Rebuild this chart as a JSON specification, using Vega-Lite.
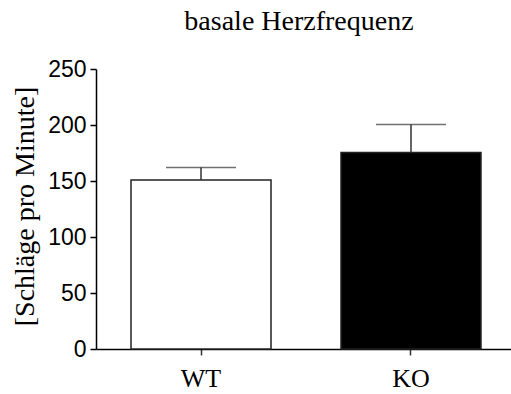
{
  "$schema": "https://vega.github.io/schema/vega-lite/v6.json",
  "autosize": "none",
  "padding": {"left": 96, "top": 69, "right": 0, "bottom": 45},
  "width": 420,
  "height": 280,
  "title": {
    "text": "basale Herzfrequenz",
    "font": "Liberation Serif",
    "fontSize": 28,
    "fontWeight": "normal",
    "color": "black",
    "anchor": "middle",
    "baseline": "alphabetic",
    "frame": "group",
    "dx": -7,
    "offset": 0
  },
  "data": {
    "values": [
      {"group": "WT", "mean": 151, "upper": 162},
      {"group": "KO", "mean": 175.5, "upper": 200.5}
    ]
  },
  "encoding": {
    "x": {
      "field": "group",
      "type": "nominal",
      "sort": ["WT", "KO"],
      "scale": {"paddingInner": 0.3333, "paddingOuter": 0.1667},
      "axis": {
        "title": null,
        "labelAngle": 0,
        "labelFont": "Liberation Serif",
        "labelFontSize": 26,
        "labelColor": "black",
        "labelBaseline": "alphabetic",
        "labelPadding": 31,
        "tickSize": 6,
        "tickColor": "#333",
        "tickWidth": 1.5,
        "domainColor": "black",
        "domainWidth": 1.5
      }
    }
  },
  "layer": [
    {
      "mark": {"type": "bar", "stroke": "#222", "strokeWidth": 1.5},
      "encoding": {
        "y": {
          "field": "mean",
          "type": "quantitative",
          "scale": {"domain": [0, 250], "nice": false, "zero": true},
          "axis": {
            "values": [0, 50, 100, 150, 200, 250],
            "grid": false,
            "title": "[Schläge pro Minute]",
            "titleFont": "Liberation Serif",
            "titleFontSize": 28,
            "titleFontWeight": "normal",
            "titleColor": "black",
            "titleAngle": -90,
            "titleAlign": "center",
            "titleBaseline": "alphabetic",
            "titleX": -63,
            "titleY": 137,
            "labelFont": "Liberation Sans",
            "labelFontSize": 23,
            "labelColor": "black",
            "labelPadding": 4,
            "tickSize": 6,
            "tickColor": "black",
            "tickWidth": 1.5,
            "domainColor": "black",
            "domainWidth": 1.5
          }
        },
        "fill": {
          "field": "group",
          "type": "nominal",
          "scale": {"domain": ["WT", "KO"], "range": ["white", "black"]},
          "legend": null
        }
      }
    },
    {
      "mark": {"type": "rule", "color": "#333", "strokeWidth": 1.5},
      "encoding": {
        "y": {"field": "mean", "type": "quantitative"},
        "y2": {"field": "upper"}
      }
    },
    {
      "mark": {"type": "tick", "color": "#333", "size": 70, "thickness": 1.5},
      "encoding": {
        "y": {"field": "upper", "type": "quantitative"}
      }
    }
  ],
  "config": {
    "view": {"stroke": null}
  }
}
